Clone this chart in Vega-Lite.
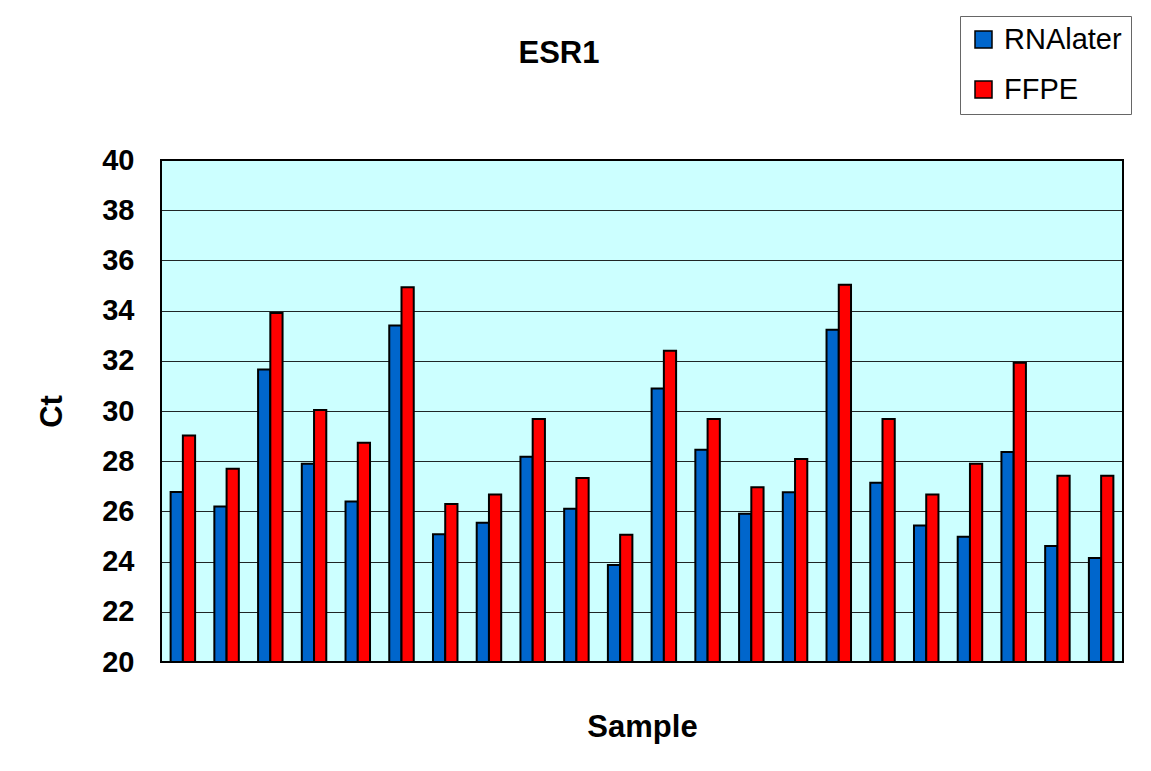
{
  "$schema": "https://vega.github.io/schema/vega-lite/v6.json",
  "autosize": {"type": "none"},
  "padding": {"left": 161, "top": 160, "right": 28, "bottom": 109},
  "width": 962,
  "height": 502,
  "background": "white",
  "title": {
    "text": "ESR1",
    "font": "Liberation Sans",
    "fontSize": 31,
    "fontWeight": "bold",
    "color": "black",
    "anchor": "middle",
    "baseline": "alphabetic",
    "dx": -83,
    "offset": -78
  },
  "data": {
    "values": [
      {"sample": 1, "method": "RNAlater", "ct": 26.77}, {"sample": 1, "method": "FFPE", "ct": 29.02},
      {"sample": 2, "method": "RNAlater", "ct": 26.2}, {"sample": 2, "method": "FFPE", "ct": 27.7},
      {"sample": 3, "method": "RNAlater", "ct": 31.65}, {"sample": 3, "method": "FFPE", "ct": 33.9},
      {"sample": 4, "method": "RNAlater", "ct": 27.9}, {"sample": 4, "method": "FFPE", "ct": 30.04},
      {"sample": 5, "method": "RNAlater", "ct": 26.39}, {"sample": 5, "method": "FFPE", "ct": 28.74},
      {"sample": 6, "method": "RNAlater", "ct": 33.41}, {"sample": 6, "method": "FFPE", "ct": 34.93},
      {"sample": 7, "method": "RNAlater", "ct": 25.09}, {"sample": 7, "method": "FFPE", "ct": 26.29},
      {"sample": 8, "method": "RNAlater", "ct": 25.55}, {"sample": 8, "method": "FFPE", "ct": 26.67},
      {"sample": 9, "method": "RNAlater", "ct": 28.18}, {"sample": 9, "method": "FFPE", "ct": 29.68},
      {"sample": 10, "method": "RNAlater", "ct": 26.11}, {"sample": 10, "method": "FFPE", "ct": 27.33},
      {"sample": 11, "method": "RNAlater", "ct": 23.86}, {"sample": 11, "method": "FFPE", "ct": 25.07},
      {"sample": 12, "method": "RNAlater", "ct": 30.9}, {"sample": 12, "method": "FFPE", "ct": 32.4},
      {"sample": 13, "method": "RNAlater", "ct": 28.46}, {"sample": 13, "method": "FFPE", "ct": 29.68},
      {"sample": 14, "method": "RNAlater", "ct": 25.91}, {"sample": 14, "method": "FFPE", "ct": 26.96},
      {"sample": 15, "method": "RNAlater", "ct": 26.76}, {"sample": 15, "method": "FFPE", "ct": 28.09},
      {"sample": 16, "method": "RNAlater", "ct": 33.24}, {"sample": 16, "method": "FFPE", "ct": 35.03},
      {"sample": 17, "method": "RNAlater", "ct": 27.14}, {"sample": 17, "method": "FFPE", "ct": 29.68},
      {"sample": 18, "method": "RNAlater", "ct": 25.44}, {"sample": 18, "method": "FFPE", "ct": 26.67},
      {"sample": 19, "method": "RNAlater", "ct": 24.99}, {"sample": 19, "method": "FFPE", "ct": 27.9},
      {"sample": 20, "method": "RNAlater", "ct": 28.37}, {"sample": 20, "method": "FFPE", "ct": 31.92},
      {"sample": 21, "method": "RNAlater", "ct": 24.62}, {"sample": 21, "method": "FFPE", "ct": 27.42},
      {"sample": 22, "method": "RNAlater", "ct": 24.14}, {"sample": 22, "method": "FFPE", "ct": 27.42}
    ]
  },
  "mark": {"type": "bar", "stroke": "black", "strokeWidth": 2},
  "encoding": {
    "x": {
      "field": "sample",
      "type": "ordinal",
      "title": "Sample",
      "scale": {"paddingInner": 0.44, "paddingOuter": 0.22},
      "axis": {
        "labels": false,
        "ticks": false,
        "domain": false,
        "titleFont": "Liberation Sans",
        "titleFontSize": 31,
        "titleFontWeight": "bold",
        "titleColor": "black",
        "titlePadding": 50
      }
    },
    "xOffset": {"field": "method", "sort": ["RNAlater", "FFPE"]},
    "y": {
      "field": "ct",
      "type": "quantitative",
      "title": "Ct",
      "scale": {"domain": [20, 40], "zero": false, "nice": false},
      "axis": {
        "values": [20, 22, 24, 26, 28, 30, 32, 34, 36, 38, 40],
        "ticks": false,
        "domain": false,
        "grid": true,
        "gridColor": "black",
        "gridOpacity": 0.85,
        "gridWidth": 1,
        "labelFont": "Liberation Sans",
        "labelFontSize": 29,
        "labelFontWeight": "bold",
        "labelColor": "black",
        "labelPadding": 27,
        "titleFont": "Liberation Sans",
        "titleFontSize": 31,
        "titleFontWeight": "bold",
        "titleColor": "black",
        "titlePadding": 33
      }
    },
    "y2": {"datum": 20},
    "color": {
      "field": "method",
      "type": "nominal",
      "sort": ["RNAlater", "FFPE"],
      "scale": {"domain": ["RNAlater", "FFPE"], "range": ["#0066CC", "#FF0000"]},
      "legend": {
        "title": null,
        "orient": "none",
        "legendX": 799,
        "legendY": -144,
        "direction": "vertical",
        "fillColor": "white",
        "strokeColor": "#666666",
        "padding": 9,
        "symbolType": "square",
        "symbolSize": 289,
        "symbolStrokeColor": "black",
        "symbolStrokeWidth": 1.5,
        "labelFont": "Liberation Sans",
        "labelFontSize": 29,
        "labelColor": "black",
        "labelOffset": 6,
        "rowPadding": 20
      }
    }
  },
  "config": {
    "view": {"fill": "#CCFFFF", "stroke": "black", "strokeWidth": 2}
  }
}
